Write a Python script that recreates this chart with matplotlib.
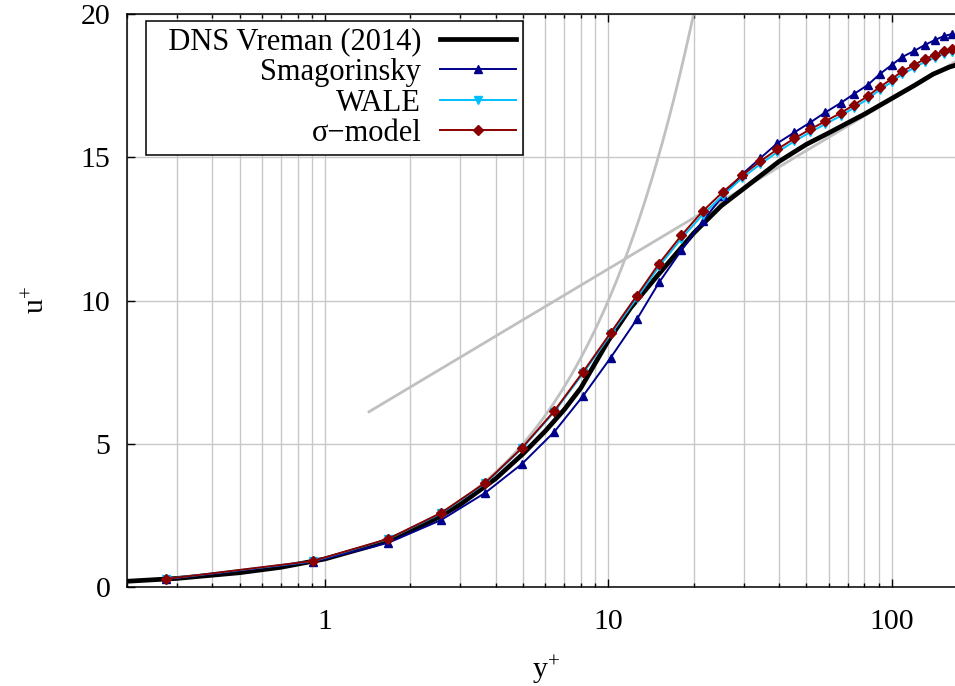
import numpy as np
import matplotlib
matplotlib.use('Agg')
import matplotlib.pyplot as plt
from matplotlib.ticker import LogLocator, FixedLocator, NullFormatter

plt.rcParams['font.family'] = ['Liberation Serif', 'DejaVu Serif']
plt.rcParams['mathtext.fontset'] = 'custom'
plt.rcParams['mathtext.rm'] = 'Liberation Serif'
plt.rcParams['mathtext.it'] = 'Liberation Serif'

# DNS Vreman & Kuerten (2014), Re_tau = 180
dns_y = [0.2, 0.3, 0.5, 0.7, 1.0, 1.5, 2.0, 2.5, 3.0, 4.0, 5.0, 6.0, 7.0, 8.0,
         10.0, 12.0, 15.0, 20.0, 25.0, 30.0, 40.0, 50.0, 60.0, 70.0, 80.0,
         100.0, 120.0, 140.0, 160.0, 180.0]
dns_u = [0.2, 0.3, 0.5, 0.69, 0.98, 1.47, 1.95, 2.42, 2.88, 3.78, 4.65, 5.45,
         6.2, 6.95, 8.6, 9.75, 10.9, 12.35, 13.3, 13.9, 14.85, 15.45, 15.85,
         16.2, 16.5, 17.05, 17.5, 17.9, 18.15, 18.3]

# LES cell centres (wall units)
les_y = [0.274, 0.907, 1.67, 2.57, 3.68, 4.96, 6.45, 8.16, 10.2, 12.6, 15.1,
         18.1, 21.5, 25.3, 29.7, 34.4, 39.5, 45.4, 51.7, 58.4, 66.0, 73.4,
         82.3, 90.7, 100.0, 109.0, 120.0, 131.0, 142.0, 153.0, 163.0]
smag_u = [0.27, 0.88, 1.54, 2.34, 3.29, 4.30, 5.42, 6.68, 8.01, 9.34, 10.63,
          11.75, 12.76, 13.64, 14.41, 14.97, 15.49, 15.87, 16.22, 16.57,
          16.89, 17.20, 17.52, 17.90, 18.22, 18.50, 18.71, 18.92, 19.09,
          19.23, 19.30]
wale_u = [0.28, 0.90, 1.67, 2.57, 3.62, 4.84, 6.12, 7.47, 8.82, 10.08, 11.19,
          12.16, 12.99, 13.66, 14.28, 14.76, 15.18, 15.56, 15.88, 16.16,
          16.44, 16.72, 17.03, 17.35, 17.63, 17.90, 18.12, 18.33, 18.47,
          18.61, 18.68]
sigma_u = [0.28, 0.91, 1.68, 2.59, 3.64, 4.86, 6.15, 7.52, 8.88, 10.17, 11.29,
           12.27, 13.11, 13.78, 14.37, 14.86, 15.28, 15.66, 15.98, 16.26,
           16.54, 16.82, 17.13, 17.45, 17.73, 18.00, 18.22, 18.43, 18.57,
           18.71, 18.78]

# law of the wall
kappa, B = 0.39, 5.2
y_visc = np.logspace(np.log10(0.2), np.log10(20.0), 200)
y_log = np.logspace(np.log10(1.43), np.log10(180.0), 200)

fig = plt.figure(figsize=(9.55, 6.86), dpi=100)
ax = fig.add_axes([0.133, 0.1443, 0.8764, 0.8353])

ax.plot(y_visc, y_visc, color='#c0c0c0', lw=2.0, zorder=1)
ax.plot(y_log, np.log(y_log) / kappa + B, color='#c0c0c0', lw=2.0, zorder=1)

ax.plot(dns_y, dns_u, color='black', lw=3.4, label='  DNS Vreman (2014)', zorder=2)
ax.plot(les_y, smag_u, color='#00008b', lw=1.4, marker='^', ms=6,
        label='Smagorinsky', zorder=3)
ax.plot(les_y, wale_u, color='#00bfff', lw=1.4, marker='v', ms=6,
        label='WALE', zorder=4)
ax.plot(les_y, sigma_u, color='#8b0000', lw=1.4, marker='D', ms=5,
        label='\u03c3\u2212model', zorder=5)

ax.set_xscale('log')
ax.set_xlim(0.2, 180)
ax.set_ylim(0, 20)
ax.xaxis.set_major_locator(FixedLocator([1, 10, 100]))
ax.xaxis.set_major_formatter(plt.FuncFormatter(lambda v, p: '%g' % v))
ax.xaxis.set_minor_locator(LogLocator(base=10, subs=np.arange(2, 10)))
ax.xaxis.set_minor_formatter(NullFormatter())
ax.yaxis.set_major_locator(FixedLocator([0, 5, 10, 15, 20]))

ax.grid(True, which='both', axis='x', color='#c8c8c8', lw=1.0)
ax.grid(True, which='major', axis='y', color='#c8c8c8', lw=1.0)
ax.set_axisbelow(True)

ax.tick_params(which='both', direction='in', top=True, right=False,
               labelsize=21.5, width=1.0)
ax.tick_params(which='major', length=6)
ax.tick_params(which='minor', length=3)
ax.tick_params(axis='x', pad=15.5)
ax.tick_params(axis='y', pad=12)
for s in ax.spines.values():
    s.set_linewidth(1.1)

ax.set_xlabel(r'$\mathrm{y}^{+}$', fontsize=21.5, labelpad=14)
ax.set_ylabel(r'$\mathrm{u}^{+}$', fontsize=21.5, labelpad=22)

leg = ax.legend(loc='upper left', bbox_to_anchor=(0.0227, 0.988),
                borderaxespad=0, markerfirst=False, fontsize=22,
                handlelength=2.5, labelspacing=0.05, fancybox=False,
                framealpha=1, edgecolor='black', borderpad=0.22,
                handletextpad=0.6)
leg.get_frame().set_linewidth(1.1)

fig.savefig('out.png', dpi=100)
